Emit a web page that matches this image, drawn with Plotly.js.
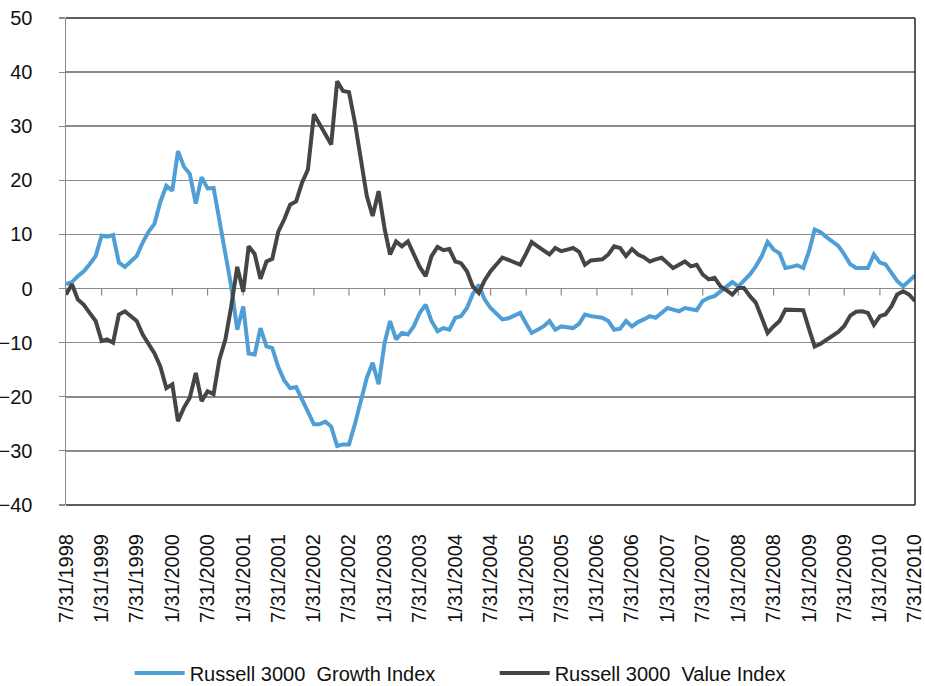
<!DOCTYPE html>
<html><head><meta charset="utf-8">
<script src="https://cdn.plot.ly/plotly-3.0.1.min.js"></script>
<style>html,body{margin:0;padding:0;background:#fff}#chart{width:925px;height:686px}</style>
</head><body><div id="chart"></div>
<script>
// Monthly relative performance series, 7/31/1998 .. 7/31/2010 (145 month-ends)
const seriesNames = ["Russell 3000\u00a0 Growth Index", "Russell 3000\u00a0 Value Index"];
const growth = [
  0.8, 1.2, 2.3, 3.2, 4.5, 6.0, 9.8, 9.6, 9.9, 4.8,
  4.0, 5.0, 6.0, 8.5, 10.5, 12.0, 16.0, 19.0, 18.1, 25.4,
  22.5, 21.2, 15.7, 20.6, 18.5, 18.6, 12.5, 6.5, 0.4, -7.6,
  -3.3, -12.0, -12.2, -7.3, -10.7, -11.0, -14.5, -17.0, -18.4, -18.2,
  -20.5, -23.0, -25.1, -25.1, -24.6, -25.5, -29.1, -28.8, -28.8, -25.0,
  -21.0, -16.5, -13.7, -17.7, -10.0, -6.0, -9.4, -8.2, -8.5, -7.0,
  -4.5, -3.0, -6.0, -7.9, -7.3, -7.6, -5.4, -5.1, -3.6, -1.0,
  0.7, -2.0, -3.6, -4.8, -5.7, -5.5, -5.0, -4.5, -6.5, -8.2,
  -7.6, -7.0, -6.0, -7.6, -7.0, -7.2, -7.3, -6.5, -4.8, -5.1,
  -5.2, -5.4, -6.0, -7.6, -7.4, -6.0, -7.0, -6.2, -5.7, -5.1,
  -5.4, -4.5, -3.6, -3.9, -4.2, -3.6, -3.9, -4.0, -2.3, -1.7,
  -1.4, -0.5, 0.4, 1.2, 0.4, 1.4, 2.6, 4.1, 6.0, 8.6,
  7.2, 6.5, 3.8, 4.0, 4.3, 3.8, 7.0, 10.9, 10.4, 9.5,
  8.7, 7.9, 6.3, 4.5, 3.8, 3.8, 3.8, 6.3, 4.8, 4.5,
  2.9, 1.4, 0.4, 1.5, 2.4
];
const value = [
  -1.1, 0.8, -2.0, -3.0, -4.5, -6.0, -9.7, -9.4, -10.0, -4.8,
  -4.2, -5.0, -6.0, -8.5, -10.3, -12.0, -14.4, -18.4, -17.7, -24.5,
  -22.0, -20.2, -15.6, -20.8, -19.0, -19.5, -13.1, -9.4, -3.3, 4.0,
  -0.6, 7.8, 6.4, 1.8, 5.0, 5.5, 10.5, 12.8, 15.5, 16.1,
  19.5, 22.0, 32.2, 30.6, 28.5, 26.6, 38.3, 36.5, 36.3, 30.6,
  23.8, 17.1, 13.4, 18.0, 11.0, 6.3, 8.7, 7.8, 8.7, 6.5,
  4.0, 2.3, 6.0, 7.7, 7.1, 7.3, 5.0, 4.7, 3.2, 0.4,
  -0.8, 1.5, 3.2, 4.5, 5.7, 5.3, 4.8, 4.4, 6.5, 8.6,
  7.8, 7.0, 6.3, 7.5, 6.9, 7.2, 7.5, 6.8, 4.4, 5.2,
  5.4, 5.4, 6.3, 7.8, 7.5, 6.0, 7.3, 6.3, 5.8, 5.0,
  5.4, 5.7, 4.7, 3.8, 4.4, 5.0, 4.1, 4.4, 2.6, 1.7,
  2.0, 0.4, -0.3, -1.1, 0.1, 0.1, -1.4, -2.6, -5.4, -8.2,
  -7.0, -6.0, -3.9, -3.9, -4.0, -4.0, -7.6, -10.7, -10.2, -9.4,
  -8.6, -8.0, -6.9, -5.0, -4.3, -4.2, -4.5, -6.7, -5.1, -4.8,
  -3.3, -1.1, -0.5, -1.1, -2.3
];
const tickLabels = [
  "7/31/1998","1/31/1999","7/31/1999","1/31/2000","7/31/2000","1/31/2001",
  "7/31/2001","1/31/2002","7/31/2002","1/31/2003","7/31/2003","1/31/2004",
  "7/31/2004","1/31/2005","7/31/2005","1/31/2006","7/31/2006","1/31/2007",
  "7/31/2007","1/31/2008","7/31/2008","1/31/2009","7/31/2009","1/31/2010","7/31/2010"
];
const yTicks = [-40, -30, -20, -10, 0, 10, 20, 30, 40, 50];

// month-end dates for each observation (July 1998 onward)
function monthEnd(k) {
  const m0 = 6 + k;
  const y = 1998 + Math.floor(m0 / 12), m = m0 % 12;
  const d = new Date(Date.UTC(y, m + 1, 0)).getUTCDate();
  return y + "-" + String(m + 1).padStart(2, "0") + "-" + String(d).padStart(2, "0");
}
const dates = growth.map((_, k) => monthEnd(k));
const tickVals = tickLabels.map((_, k) => dates[k * 6]);

const FONT = "Liberation Sans, Arial, sans-serif";
const GRID = "#8a8a8a";
const FRAME = "#262626";

const traces = [
  {x: dates, y: growth, type: "scatter", mode: "lines", name: seriesNames[0],
   line: {color: "#4f9fd6", width: 4}},
  {x: dates, y: value, type: "scatter", mode: "lines", name: seriesNames[1],
   line: {color: "#454545", width: 4}}
];

const shapes = [
  {type: "line", xref: "paper", yref: "paper", x0: 0, x1: 1, y0: 1, y1: 1, line: {color: FRAME, width: 1.5}},
  {type: "line", xref: "paper", yref: "paper", x0: 1, x1: 1, y0: 0, y1: 1, line: {color: FRAME, width: 1.5}},
  {type: "line", xref: "paper", yref: "paper", x0: 0, x1: 1, y0: 0, y1: 0, line: {color: FRAME, width: 1.5}}
].concat(tickVals.map(v => ({
  type: "line", xref: "x", yref: "y", ysizemode: "pixel", yanchor: 0,
  x0: v, x1: v, y0: 0, y1: -7, line: {color: GRID, width: 1.2}, layer: "below"
})));

const layout = {
  width: 925, height: 686,
  margin: {l: 66, r: 10, t: 18, b: 181},
  paper_bgcolor: "#fff", plot_bgcolor: "#fff",
  font: {family: FONT, size: 20, color: "#111"},
  showlegend: true,
  legend: {orientation: "h", x: 0.075, xanchor: "left",
           yref: "container", y: 0.019, yanchor: "middle",
           font: {family: FONT, size: 20, color: "#111"},
           entrywidth: 300, entrywidthmode: "pixels", itemwidth: 50,
           bgcolor: "rgba(0,0,0,0)"},
  xaxis: {type: "date", range: [dates[0], dates[dates.length - 1] + " 02:00"],
          tickmode: "array", tickvals: tickVals, ticktext: tickLabels,
          tickangle: -90, ticks: "", ticklabelstandoff: 24, ticklabeloverflow: "allow",
          showgrid: false, zeroline: false, showline: false,
          tickfont: {family: FONT, size: 20, color: "#111"}},
  yaxis: {range: [-40, 50], tickmode: "array", tickvals: yTicks,
          ticks: "outside", ticklen: 6, tickcolor: GRID, tickwidth: 1.2,
          ticklabelstandoff: 22, ticklabeloverflow: "allow",
          showgrid: true, gridcolor: GRID, gridwidth: 1.5,
          zeroline: true, zerolinecolor: GRID, zerolinewidth: 1.5,
          showline: true, linecolor: GRID, linewidth: 1.5,
          tickfont: {family: FONT, size: 20, color: "#111"}},
  shapes: shapes
};

Plotly.newPlot("chart", traces, layout, {staticPlot: true, displayModeBar: false});
</script></body></html>
